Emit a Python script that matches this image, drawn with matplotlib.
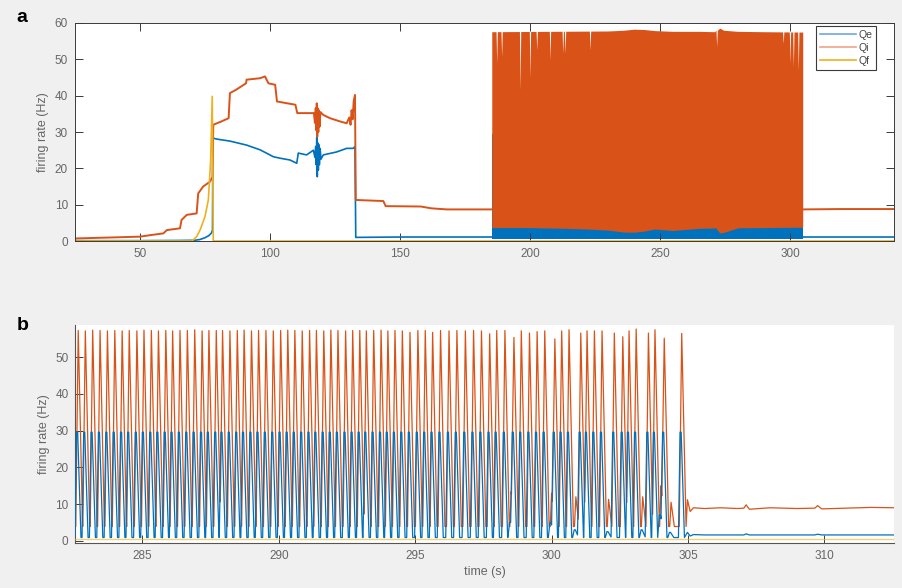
import numpy as np
import matplotlib
matplotlib.use("Agg")
import matplotlib.pyplot as plt

plt.rcParams['font.family'] = ['Liberation Sans', 'DejaVu Sans']

C_QE = '#0072BD'
C_QI = '#D95319'
C_QF = '#EDB120'
TXT = '#666666'
AX = '#3a3a3a'

series_names = ['Qe', 'Qi', 'Qf']

# ---------------- panel a : whole run ----------------
qe_a_t = [25, 50, 65, 71, 73, 75, 76.5, 77.5, 77.9, 78.05, 80, 84.6, 91, 96.2, 101.3, 103.8, 107.7,
          110.3, 110.9, 114.1, 116.7, 117.3, 117.6, 117.8, 118.0, 118.2, 118.4, 118.6, 118.8, 119.0,
          119.3, 119.6, 120.5, 125.6, 129.5, 132.0, 132.7, 133.0, 150, 170, 185.2, np.nan, 305.0, 320, 340]
qe_a_v = [0.1, 0.1, 0.15, 0.2, 0.4, 0.9, 1.5, 2.2, 3.0, 28.3, 28.0, 27.5, 26.4, 25.1, 23.2, 22.8, 22.3,
          21.4, 24.2, 23.7, 25.0, 23.0, 26.0, 21.0, 28.5, 17.7, 27.0, 19.5, 26.5, 21.0,
          25.5, 22.5, 23.7, 24.5, 25.5, 25.5, 26.0, 1.0, 1.1, 1.1, 1.1, np.nan, 1.1, 1.1, 1.1]

qi_a_t = [25, 50, 53.8, 59.0, 60.3, 65.4, 66.0, 68.0, 71.8, 72.4, 74.3, 76.9, 77.9, 78.2, 81.3, 84.1,
          84.6, 86.9, 90.8, 91.0, 96.2, 98.1, 99.4, 102.0, 102.7, 109.8, 110.5, 116.9, 117.3, 117.6,
          117.8, 118.0, 118.2, 118.4, 118.6, 118.8, 119.1, 119.4, 120.5, 123.1, 127.0, 129.5, 130.5,
          131.0, 131.4, 131.8, 132.2, 132.7, 133.0, 143.6, 144.5,
          158.0, 162.0, 168.0, 185.2, np.nan, 305.0, 320, 340]
qi_a_v = [0.7, 1.2, 1.6, 2.1, 3.0, 3.5, 5.8, 7.2, 7.6, 13.1, 15.0, 16.3, 17.6, 32.0, 32.9, 33.8,
          40.7, 41.6, 43.4, 44.4, 44.8, 45.3, 43.4, 43.0, 38.4, 37.5, 35.2, 35.2, 32.5, 36.5,
          30.5, 37.9, 28.7, 36.5, 30.0, 36.0, 31.5, 35.5, 34.7, 33.8, 32.9, 32.4, 34.0,
          32.0, 36.0, 33.5, 38.5, 40.2, 11.3, 11.0, 9.6,
          9.5, 9.0, 8.7, 8.7, np.nan, 8.7, 8.8, 8.8]

qf_a_t = [25, 70, 71.8, 73.1, 75.0, 76.3, 77.2, 77.8, 78.2, 340]
qf_a_v = [0, 0, 1.2, 3.0, 6.7, 11.3, 22.3, 39.8, 0, 0]

# oscillating stretch: envelopes of the fast Qi / Qe cycles
osc_t = [185.3, 304.9]
qe_osc_low = [0.5, 0.5]
qe_osc_high = [29.5, 29.5]

qi_top_t = [185.3, 230, 236, 240, 244, 248, 255, 265, 271, 273, 274.5, 280, 290, 304.9]
qi_top_v = [57.6, 57.8, 58.0, 58.3, 58.2, 57.9, 57.7, 57.7, 57.6, 58.6, 58.0, 57.7, 57.6, 57.5]
qi_dip_t = [187.2, 189.1, 196.2, 200.0, 202.6, 207.7, 212.6, 213.5, 223.1, 271.8, 297.4, 300.0, 301.3, 303.2]
qi_dip_v = [49.0, 50.8, 41.6, 45.0, 52.6, 49.9, 51.7, 51.7, 52.6, 53.5, 54.4, 49.0, 48.0, 47.0]
qi_low_t = [185.3, 200, 220, 230, 238, 243, 248, 253, 257, 265, 271.5, 273, 274.8, 276, 290, 304.9]
qi_low_v = [3.7, 3.7, 3.4, 3.0, 2.3, 2.6, 3.3, 2.5, 3.3, 3.5, 3.6, 2.2, 2.4, 3.6, 3.7, 3.8]

# ---------------- panel b : end of the oscillations ----------------
peak_t = [282.65, 282.91, 283.18, 283.45, 283.72, 283.99, 284.26, 284.52, 284.80, 285.06,
          285.33, 285.59, 285.86, 286.11, 286.38, 286.65, 286.92, 287.19, 287.44, 287.71,
          287.94, 288.21, 288.48, 288.73, 289.00, 289.26, 289.53, 289.80, 290.07, 290.33,
          290.59, 290.86, 291.13, 291.38, 291.65, 291.91, 292.17, 292.45, 292.71, 292.97,
          293.21, 293.48, 293.75, 294.00, 294.26, 294.53, 294.81, 295.10, 295.37, 295.64,
          295.93, 296.24, 296.53, 296.84, 297.14, 297.43, 297.73, 297.99, 298.29, 298.62,
          298.89, 299.19, 299.47, 299.75, 300.12, 300.37, 300.64, 301.07, 301.30, 301.57,
          301.85, 302.30, 302.61, 302.84, 303.10, 303.55, 303.79, 304.13, 304.77]
qi_peak = [57.3, 57.2, 57.4, 57.3, 57.2, 57.3, 57.2, 57.3, 57.2, 57.4,
           57.3, 57.2, 57.3, 57.2, 57.3, 57.3, 57.5, 57.2, 57.3, 57.3,
           57.3, 57.2, 57.3, 57.4, 57.2, 57.3, 57.3, 57.2, 57.3, 57.4,
           57.3, 57.2, 57.3, 57.3, 57.2, 57.4, 57.3, 57.2, 57.3, 57.3,
           57.2, 57.3, 57.4, 57.2, 57.3, 57.2, 56.8, 57.3, 57.3, 56.8,
           57.3, 57.2, 57.3, 57.2, 57.3, 57.2, 56.4, 57.3, 57.3, 55.4,
           57.2, 56.6, 57.0, 57.2, 55.0, 57.2, 57.5, 56.6, 57.2, 57.2,
           57.2, 56.6, 55.6, 57.2, 57.7, 56.6, 57.5, 55.2, 56.5]
qe_peak = 29.6
qi_trough = 3.9
qe_trough = 0.9

bump_t = [298.52, 300.00, 300.89, 302.09, 303.34, 304.01, 304.38]
qi_bump = [13.4, 13.0, 12.0, 11.3, 12.0, 15.0, 10.5]
qe_bump = [5.0, 5.0, 3.0, 2.5, 3.0, 7.0, 2.3]

tail_t = [304.98, 305.08, 305.2, 305.6, 306.2, 306.8, 307.05, 307.13, 307.25, 308.0, 309.0,
          309.65, 309.75, 309.9, 310.8, 311.7, 312.6]
qi_tail = [11.2, 8.0, 9.0, 8.8, 9.0, 8.8, 8.9, 9.8, 8.6, 9.0, 8.8, 8.9, 9.6, 8.7, 8.9, 9.1, 9.0]
qe_tail = [2.3, 1.3, 1.7, 1.6, 1.6, 1.6, 1.6, 1.9, 1.6, 1.6, 1.6, 1.6, 1.8, 1.6, 1.6, 1.6, 1.6]
qf_b = 0.4

XLIM_A = (25, 340)
XLIM_B = (282.55, 312.55)


def pulses(times, heights, base, dt, frac, t_start):
    """Piecewise-linear pulse train: each event is a small polygon of offsets
    dt with relative heights frac; overlapping events are merged by max."""
    dt = np.asarray(dt)
    frac = np.asarray(frac)
    verts = np.unique(np.concatenate([[t_start]] + [t + dt for t in times]))
    vals = np.full(verts.shape, base, dtype=float)
    for t, h in zip(times, heights):
        vals = np.maximum(vals, np.interp(verts, t + dt, base + frac * (h - base),
                                          left=base, right=base))
    return verts, vals


def with_dips(t, v, dip_t, dip_v, half=0.25):
    pts = list(zip(t, v))
    for d, dv in zip(dip_t, dip_v):
        lv = np.interp(d, t, v)
        pts += [(d - half, lv), (d, dv), (d + half, lv)]
    pts.sort()
    return [p[0] for p in pts], [p[1] for p in pts]


fig = plt.figure(figsize=(9.02, 5.88), dpi=100, facecolor='#f0f0f0')
ax_a = fig.add_axes([0.0831, 0.5901, 0.9080, 0.3708])
ax_b = fig.add_axes([0.0837, 0.0765, 0.9074, 0.3708])

# ---- panel a ----
la_e, = ax_a.plot(qe_a_t, qe_a_v, color=C_QE, lw=1.2)
ax_a.fill_between(osc_t, qe_osc_low, qe_osc_high, color=C_QE, lw=0)
la_i, = ax_a.plot(qi_a_t, qi_a_v, color=C_QI, lw=1.4)
top_t, top_v = with_dips(qi_top_t, qi_top_v, qi_dip_t, qi_dip_v)
low_v = np.interp(top_t, qi_low_t, qi_low_v)
ax_a.fill_between(top_t, low_v, top_v, color=C_QI, lw=0)
la_f, = ax_a.plot(qf_a_t, qf_a_v, color=C_QF, lw=1.2)

ax_a.set_xlim(*XLIM_A)
ax_a.set_ylim(0, 60)
ax_a.set_xticks([50, 100, 150, 200, 250, 300])
ax_a.set_yticks([0, 10, 20, 30, 40, 50, 60])
ax_a.tick_params(direction='in', length=5.8, width=0.7, color=AX, labelcolor=TXT,
                 labelsize=8.5, top=True, right=True, pad=5)
for s in ax_a.spines.values():
    s.set_color(AX)
    s.set_linewidth(0.7)
ax_a.set_ylabel('firing rate (Hz)', color=TXT, fontsize=9, labelpad=4)
leg = ax_a.legend([la_e, la_i, la_f], series_names, loc='upper right',
                  bbox_to_anchor=(0.978, 0.986), borderaxespad=0, fontsize=7.5,
                  handlelength=3.5, handletextpad=0.2, borderpad=0.35,
                  labelspacing=0.3, fancybox=False, framealpha=1)
leg.get_frame().set_edgecolor('#3a3a3a')
leg.get_frame().set_linewidth(0.8)
for txt in leg.get_texts():
    txt.set_color('#444444')
for h, c in zip(leg.get_lines(), ['#6fa8dc', '#f0a486', C_QF]):
    h.set_linewidth(1.2)
    h.set_color(c)

# ---- panel b ----
qe_dt = [-0.12, -0.06, -0.02, 0.10]
qe_fr = [0.0, 1.0, 1.0, 0.0]
qi_dt = [-0.09, 0.0, 0.16]
qi_fr = [0.0, 1.0, 0.0]
bump_dt = [-0.05, 0.0, 0.12]
bump_fr = [0.0, 1.0, 0.0]

tb_e, vb_e = pulses(peak_t + bump_t, [qe_peak] * len(peak_t) + qe_bump, qe_trough,
                    qe_dt, qe_fr, XLIM_B[0])
tb_i, vb_i = pulses(peak_t, qi_peak, qi_trough, qi_dt, qi_fr, XLIM_B[0])
tbb, vbb = pulses(bump_t, qi_bump, qi_trough, bump_dt, bump_fr, XLIM_B[0])
merged_t = np.unique(np.concatenate([tb_i, tbb]))
merged_v = np.maximum(np.interp(merged_t, tb_i, vb_i), np.interp(merged_t, tbb, vbb))

ax_b.plot(np.concatenate([merged_t, tail_t]), np.concatenate([merged_v, qi_tail]),
          color=C_QI, lw=0.9, zorder=2)
ax_b.plot(np.concatenate([tb_e, tail_t]), np.concatenate([vb_e, qe_tail]),
          color=C_QE, lw=0.9, zorder=3)
ax_b.plot(XLIM_B, [qf_b, qf_b], color=C_QF, lw=1.0, alpha=0.6, zorder=4)

ax_b.set_xlim(*XLIM_B)
ax_b.set_ylim(-0.6, 58.8)
ax_b.set_xticks([285, 290, 295, 300, 305, 310])
ax_b.set_yticks([0, 10, 20, 30, 40, 50])
ax_b.tick_params(direction='in', length=5.8, width=0.7, color=AX, labelcolor=TXT,
                 labelsize=8.5, pad=5)
for k in ('top', 'right'):
    ax_b.spines[k].set_visible(False)
for k in ('left', 'bottom'):
    ax_b.spines[k].set_color('#555555')
    ax_b.spines[k].set_linewidth(0.8)
ax_b.set_ylabel('firing rate (Hz)', color=TXT, fontsize=9, labelpad=4)
ax_b.set_xlabel('time (s)', color=TXT, fontsize=9, labelpad=3)

fig.text(0.0244, 1 - 17 / 588, 'a', fontsize=14, fontweight='bold', ha='center', va='center')
fig.text(0.025, 1 - 325 / 588, 'b', fontsize=14, fontweight='bold', ha='center', va='center')

fig.savefig('out.png', dpi=100, facecolor=fig.get_facecolor())
